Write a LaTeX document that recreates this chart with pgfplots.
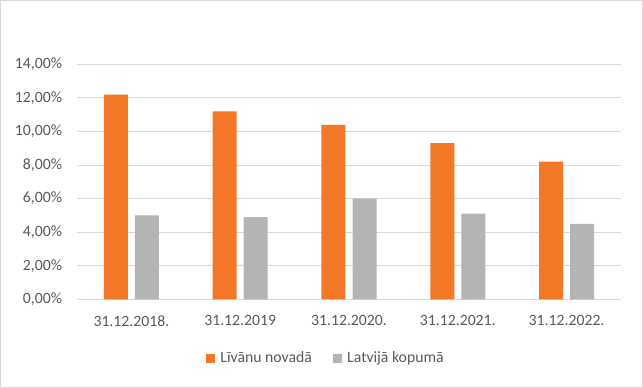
\documentclass[border=0pt]{standalone}
\usepackage{pgfplots}
\pgfplotsset{compat=1.18}
\usepackage{fontspec}
\setmainfont{Carlito}
\definecolor{orangebar}{HTML}{F37726}
\definecolor{graybar}{HTML}{B4B4B4}
\definecolor{gridc}{HTML}{D9D9D9}
\definecolor{txt}{HTML}{595959}
\begin{document}
\begin{tikzpicture}
\begin{axis}[
  at={(0,0)}, anchor=south west,
  scale only axis,
  width=408pt, height=176.25pt,
  ybar=5.25pt, bar width=18pt,
  xmin=-0.5, xmax=4.5,
  ymin=0, ymax=14,
  xtick={0,1,2,3,4},
  xticklabels={31.12.2018.,31.12.2019,31.12.2020.,31.12.2021.,31.12.2022.},
  ytick={0,2,4,6,8,10,12,14},
  yticklabels={{0,00\%},{2,00\%},{4,00\%},{6,00\%},{8,00\%},{10,00\%},{12,00\%},{14,00\%}},
  axis line style={draw=none},
  major tick length=0pt,
  ymajorgrids,
  grid style={gridc, line width=0.75pt},
  tick label style={font=\fontsize{11.8}{14}\selectfont, text=txt},
  yticklabel style={inner sep=0pt, anchor=east},
  yticklabel shift=11pt,
  xticklabel style={inner sep=0pt, anchor=north},
  xticklabel shift=11.8pt,
  legend columns=2,
  legend style={draw=none, fill=none, at={(0.4557,0)}, anchor=center, yshift=-44.4pt,
    font=\fontsize{11.8}{14}\selectfont, text=txt,
    nodes={inner sep=0pt},
    /tikz/every odd column/.append style={column sep=4pt},
    /tikz/every even column/.append style={column sep=15.75pt}},
  legend image code/.code={\fill[#1] (0pt,-3.375pt) rectangle (6.75pt,3.375pt);},
  clip=false,
]
\addplot[fill=orangebar, draw=none] coordinates {(0,12.2) (1,11.2) (2,10.4) (3,9.3) (4,8.2)};
\addplot[fill=graybar, draw=none] coordinates {(0,5.0) (1,4.9) (2,6.0) (3,5.1) (4,4.5)};
\legend{Līvānu novadā, Latvijā kopumā}
\end{axis}
\draw[gridc, line width=0.75pt] (-57.375pt,-66.125pt) rectangle (424.125pt,224.125pt);
\end{tikzpicture}
\end{document}
